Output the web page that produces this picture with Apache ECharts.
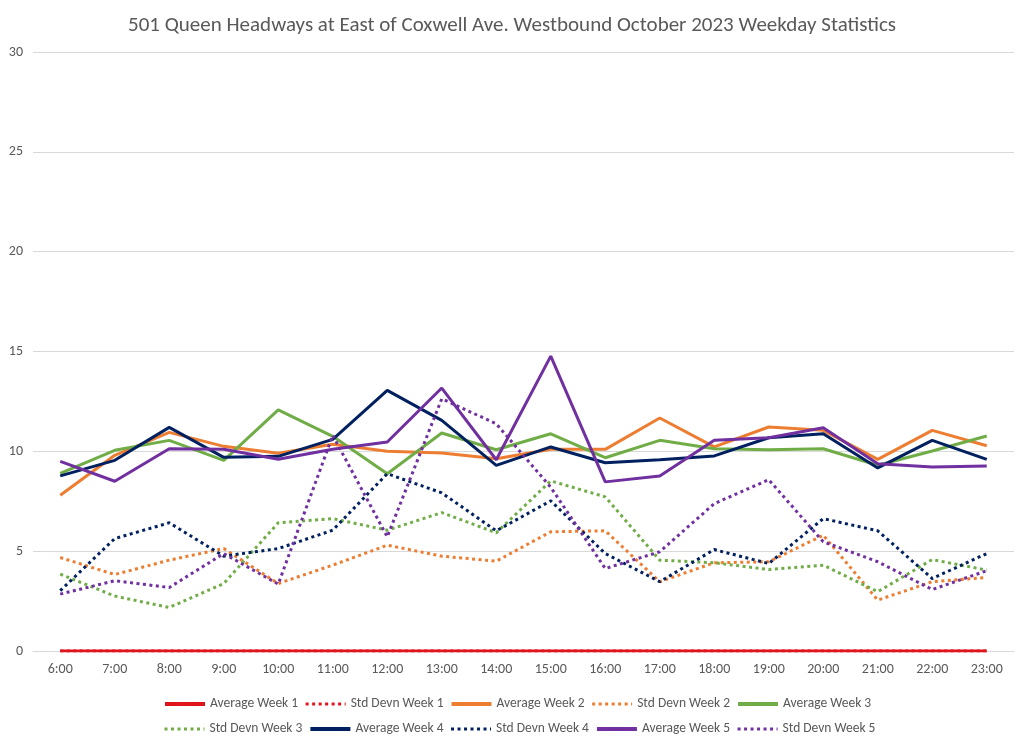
<!DOCTYPE html>
<html>
<head>
<meta charset="utf-8">
<script src="https://cdn.jsdelivr.net/npm/echarts@6/dist/echarts.min.js"></script>
<style>
html,body{margin:0;padding:0;background:#fff;}
#chart{width:1024px;height:741px;}
</style>
</head>
<body>
<div id="chart"></div>
<script>
const titleText = '501 Queen Headways at East of Coxwell Ave. Westbound October 2023 Weekday Statistics';
const hours = ['6:00','7:00','8:00','9:00','10:00','11:00','12:00','13:00','14:00','15:00','16:00','17:00','18:00','19:00','20:00','21:00','22:00','23:00'];
const yTicks = [0, 5, 10, 15, 20, 25, 30];

const avgW1 = [0,0,0,0,0,0,0,0,0,0,0,0,0,0,0,0,0,0];
const stdW1 = [0,0,0,0,0,0,0,0,0,0,0,0,0,0,0,0,0,0];
const avgW2 = [7.8, 9.8, 10.95, 10.25, 9.9, 10.35, 10.0, 9.92, 9.63, 10.1, 10.1, 11.67, 10.22, 11.22, 11.05, 9.6, 11.05, 10.28];
const stdW2 = [4.68, 3.83, 4.55, 5.13, 3.38, 4.3, 5.3, 4.75, 4.5, 5.97, 6.02, 3.47, 4.42, 4.47, 5.8, 2.55, 3.47, 3.68];
const avgW3 = [8.9, 10.05, 10.55, 9.55, 12.08, 10.75, 8.88, 10.92, 10.08, 10.88, 9.68, 10.55, 10.13, 10.08, 10.13, 9.3, 10.02, 10.77];
const stdW3 = [3.85, 2.75, 2.18, 3.38, 6.42, 6.63, 6.05, 6.93, 5.92, 8.52, 7.72, 4.55, 4.42, 4.08, 4.3, 2.97, 4.58, 4.05];
const avgW4 = [8.77, 9.55, 11.2, 9.7, 9.75, 10.6, 13.05, 11.55, 9.3, 10.22, 9.43, 9.58, 9.77, 10.68, 10.88, 9.17, 10.55, 9.6];
const stdW4 = [3.02, 5.63, 6.42, 4.75, 5.13, 6.05, 8.88, 7.92, 6.02, 7.52, 4.88, 3.47, 5.08, 4.38, 6.63, 6.02, 3.63, 4.88];
const avgW5 = [9.5, 8.5, 10.13, 10.1, 9.6, 10.1, 10.47, 13.17, 9.58, 14.77, 8.47, 8.77, 10.55, 10.68, 11.18, 9.38, 9.22, 9.27];
const stdW5 = [2.85, 3.52, 3.18, 4.88, 3.35, 10.8, 5.72, 12.63, 11.38, 8.2, 4.13, 4.97, 7.38, 8.58, 5.47, 4.47, 3.08, 4.02];

const seriesNames = ['Average Week 1','Std Devn Week 1','Average Week 2','Std Devn Week 2','Average Week 3',
                     'Std Devn Week 3','Average Week 4','Std Devn Week 4','Average Week 5','Std Devn Week 5'];
const seriesData = [avgW1, stdW1, avgW2, stdW2, avgW3, stdW3, avgW4, stdW4, avgW5, stdW5];
const seriesColors = ['#E0141C','#E0141C','#ED7D31','#ED7D31','#70AD47','#70AD47','#002060','#002060','#7030A0','#7030A0'];

const FONT = 'Carlito, Calibri, Lato, sans-serif';
const textColor = '#595959';
const DOT = [3, 3.5];

const series = seriesNames.map((name, i) => ({
  name: name,
  type: 'line',
  data: seriesData[i],
  symbol: 'none',
  showSymbol: false,
  z: 2 + i,
  color: seriesColors[i],
  lineStyle: {
    color: seriesColors[i],
    width: 3,
    type: (i % 2 === 1) ? DOT : 'solid',
    cap: 'butt'
  },
  emphasis: { disabled: true }
}));

function legendData(names) {
  return names.map(n => {
    const i = seriesNames.indexOf(n);
    const dotted = (i % 2 === 1);
    return {
      name: n,
      itemStyle: { opacity: 0, borderWidth: 0 },
      lineStyle: {
        color: seriesColors[i],
        width: dotted ? 3 : 4,
        type: dotted ? DOT : 'solid'
      }
    };
  });
}

const legendCommon = {
  itemWidth: 40,
  itemHeight: 14,
  itemGap: 6,
  itemStyle: { opacity: 0, borderWidth: 0 },
  textStyle: { fontFamily: FONT, fontSize: 13.5, color: textColor }
};

const chart = echarts.init(document.getElementById('chart'), null, { renderer: 'canvas' });
chart.setOption({
  backgroundColor: '#ffffff',
  animation: false,
  title: {
    text: titleText,
    left: 'center',
    top: 10,
    textStyle: { fontFamily: FONT, fontSize: 21, fontWeight: 'normal', color: textColor }
  },
  legend: [
    Object.assign({}, legendCommon, { data: legendData(seriesNames.slice(0, 5)), left: 158, top: 692 }),
    Object.assign({}, legendCommon, { data: legendData(seriesNames.slice(5, 10)), left: 158, top: 717 })
  ],
  grid: { left: 33, right: 10, top: 52, bottom: 90, containLabel: false },
  xAxis: {
    type: 'category',
    data: hours,
    boundaryGap: true,
    axisLine: { show: true, lineStyle: { color: '#D9D9D9', width: 1 } },
    axisTick: { show: false },
    axisLabel: { fontFamily: FONT, fontSize: 14, color: textColor, margin: 11 }
  },
  yAxis: {
    type: 'value',
    min: yTicks[0],
    max: yTicks[yTicks.length - 1],
    interval: yTicks[1] - yTicks[0],
    axisLine: { show: false },
    axisTick: { show: false },
    splitLine: { lineStyle: { color: '#D9D9D9', width: 1 } },
    axisLabel: { fontFamily: FONT, fontSize: 14, color: textColor, margin: 10 }
  },
  series: series
});
</script>
</body>
</html>
